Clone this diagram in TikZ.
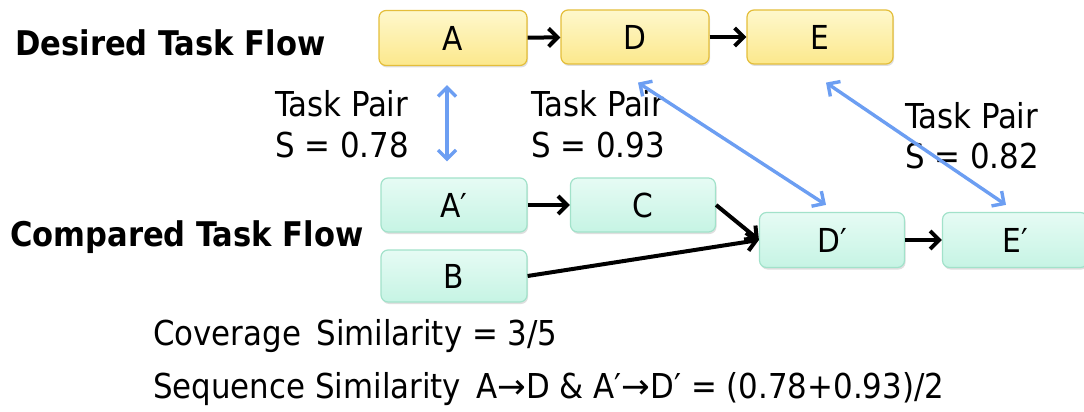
\documentclass[tikz,border=0pt]{standalone}
\usepackage{fontspec}
\setmainfont{DejaVu Sans Condensed}
\newfontfamily\arrowfont{DejaVu Sans}
\usetikzlibrary{arrows.meta,shadows}
\definecolor{yelTop}{HTML}{FEF8CC}
\definecolor{yelBot}{HTML}{FCE88C}
\definecolor{yelLine}{HTML}{E4BE3A}
\definecolor{grnTop}{HTML}{E6FBF4}
\definecolor{grnBot}{HTML}{C6F4E4}
\definecolor{grnLine}{HTML}{A2E2CA}
\definecolor{pairBlue}{HTML}{6C9EF2}
\tikzset{
  taskbox/.style={rounded corners=7pt, line width=1.2pt, inner sep=0pt,
    font=\fontsize{33}{38}\selectfont,
    drop shadow={shadow xshift=1pt, shadow yshift=-2pt, opacity=0.25}},
  desired/.style={taskbox, draw=yelLine, top color=yelTop, bottom color=yelBot},
  compared/.style={taskbox, draw=grnLine, top color=grnTop, bottom color=grnBot},
  flow/.style={line width=4pt, -{Straight Barb[length=9pt,width=18pt,line width=4pt]}},
  pair/.style={line width=3.4pt, pairBlue,
    {Straight Barb[length=9pt,width=18pt,line width=3.4pt]}-{Straight Barb[length=9pt,width=18pt,line width=3.4pt]}},
  label/.style={anchor=base west, inner sep=0pt, font=\fontsize{34.3}{40}\selectfont},
  heading/.style={anchor=base west, inner sep=0pt, font=\bfseries\fontsize{34}{40}\selectfont},
}
\begin{document}
\begin{tikzpicture}[x=1pt,y=-1pt]
\useasboundingbox (0,0) rectangle (1084,412);

% desired flow
\node[desired, minimum width=148pt, minimum height=55pt] (A) at (453,38) {A};
\node[desired, minimum width=148pt, minimum height=54pt] (D) at (635,37) {D};
\node[desired, minimum width=146pt, minimum height=54pt] (E) at (820,37) {E};

% compared flow
\node[compared, minimum width=146pt, minimum height=54pt] (Ap) at (454,205) {A′};
\node[compared, minimum width=145pt, minimum height=54pt] (C) at (643,205) {C};
\node[compared, minimum width=146pt, minimum height=52pt] (B) at (454,276) {B};
\node[compared, minimum width=145pt, minimum height=55pt] (Dp) at (832,240) {D′};
\node[compared, minimum width=145pt, minimum height=55pt] (Ep) at (1015,240) {E′};

% headings
\node[heading] (h1) at (15,56) {Desired Task Flow};
\node[heading] (h2) at (10,246) {Compared Task Flow};

% pair labels
\node[label] (l1) at (275,116) {Task Pair};
\node[label] (l1s) at (275,157) {S = 0.78};
\node[label] (l2) at (531,116) {Task Pair};
\node[label] (l2s) at (531,157) {S = 0.93};
\node[label] (l3) at (905,128) {Task Pair};
\node[label] (l3s) at (905,168) {S = 0.82};

% black flow arrows
\draw[flow] (A) -- (D);
\draw[flow] (D) -- (E);
\draw[flow] (Ap) -- (C);
\draw[flow] (C.east) -- (Dp.west);
\draw[flow] (B.east) -- (Dp.west);
\draw[flow] (Dp) -- (Ep);

% blue task-pair arrows
\draw[pair] ([xshift=-6pt,yshift=-19pt]A.south) -- ([xshift=-7pt,yshift=16pt]Ap.north);
\draw[pair] ([xshift=3pt,yshift=-18pt]D.south) -- ([xshift=-6pt,yshift=7pt]Dp.north);
\draw[pair] ([xshift=6pt,yshift=-18pt]E.south) -- ([xshift=-9pt,yshift=7pt]Ep.north);

% summary lines
\node[label] (cov) at (153,345) {Coverage\hspace{0.45em}Similarity = 3/5};
\node[label] (seq) at (153,398) {Sequence Similarity\hspace{0.45em}A{\arrowfont→}D \& A′{\arrowfont→}D′ = (0.78+0.93)/2};
\end{tikzpicture}
\end{document}
